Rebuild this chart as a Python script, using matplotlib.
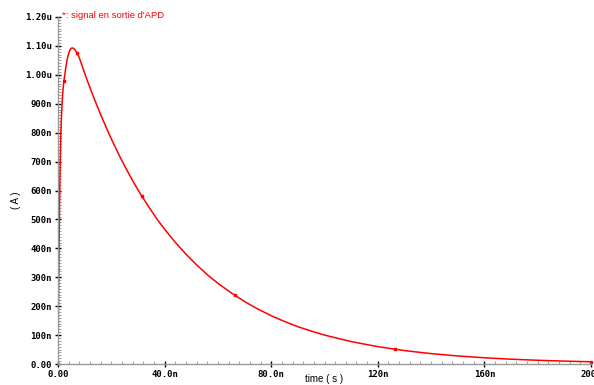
import matplotlib.pyplot as plt
from matplotlib.ticker import MultipleLocator, FixedLocator

# APD output current (time in ns, current in uA)
t_ns = [0, 0.25, 0.5, 0.75, 1.0, 1.25, 1.5, 1.75, 2.0, 2.25, 2.5, 3.0, 3.5,
        4.0, 4.5, 5.0, 5.5, 6.0, 6.5, 7.0, 7.5, 8, 9, 10, 11, 12, 13, 14,
        15, 17, 19, 21, 23, 25, 28, 31, 34, 37, 40, 44, 48, 52, 56, 60, 65,
        70, 75, 80, 85, 90, 95, 100, 110, 120, 130, 140, 150, 160, 170, 180,
        190, 200]
i_ua = [0, 0.28, 0.50, 0.66, 0.77, 0.845, 0.895, 0.935, 0.96, 0.98, 0.997,
        1.03, 1.056, 1.074, 1.086, 1.092, 1.093, 1.090, 1.085, 1.078, 1.069,
        1.059, 1.032, 1.006, 0.980, 0.956, 0.931, 0.908, 0.885, 0.841,
        0.799, 0.759, 0.721, 0.685, 0.634, 0.587, 0.544, 0.503, 0.466,
        0.421, 0.380, 0.343, 0.309, 0.279, 0.246, 0.216, 0.190, 0.167,
        0.147, 0.129, 0.114, 0.100, 0.0775, 0.060, 0.0464, 0.0359, 0.0278,
        0.0215, 0.0166, 0.0129, 0.0100, 0.0077]

mark_t = [2.25, 7.1, 31.5, 66.3, 126.5, 200]
mark_i = [0.98, 1.076, 0.580, 0.240, 0.051, 0.0077]

yticks = [0, 0.1, 0.2, 0.3, 0.4, 0.5, 0.6, 0.7, 0.8, 0.9, 1.0, 1.1, 1.2]
ylabels = ['0.00', '100n', '200n', '300n', '400n', '500n', '600n', '700n',
           '800n', '900n', '1.00u', '1.10u', '1.20u']
xticks = [0, 40, 80, 120, 160, 200]
xlabels = ['0.00', '40.0n', '80.0n', '120n', '160n', '200n']

fig = plt.figure(figsize=(5.94, 3.85), dpi=100)
ax = fig.add_axes([58/594, 21/385, 533/594, 347/385])

ax.plot(t_ns, i_ua, color='red', lw=1.1)
ax.plot(mark_t, mark_i, 's', color='red', ms=1.8, clip_on=False)

ax.set_xlim(0, 200)
ax.set_ylim(0, 1.2)
ax.xaxis.set_major_locator(FixedLocator(xticks))
ax.yaxis.set_major_locator(FixedLocator(yticks))
ax.xaxis.set_minor_locator(MultipleLocator(4))
ax.yaxis.set_minor_locator(MultipleLocator(0.01))

tickfont = dict(family='DejaVu Sans Mono', size=6.5, weight='bold')
ax.set_xticklabels(xlabels, **tickfont)
ax.set_yticklabels(ylabels, **tickfont)

ax.spines['top'].set_visible(False)
ax.spines['right'].set_visible(False)
for s in ('left', 'bottom'):
    ax.spines[s].set_color('0.6')
    ax.spines[s].set_linewidth(1.0)

ax.tick_params(which='major', direction='inout', length=5, width=1,
               color='black', pad=2)
ax.tick_params(which='minor', direction='in', length=2.5, width=0.6,
               color='0.55')

fig.text(62/594, 1 - 16/385, "*: signal en sortie d'APD", color='red',
         family='Liberation Sans', size=6.8, ha='left', va='center')
fig.text(324/594, 1 - 379/385, 'time ( s )', family='Liberation Sans',
         size=7, ha='center', va='center')
fig.text(16/594, 1 - 200/385, '( A )', family='Liberation Sans', size=7,
         rotation=90, ha='center', va='center')

fig.savefig('out.png', dpi=100)
